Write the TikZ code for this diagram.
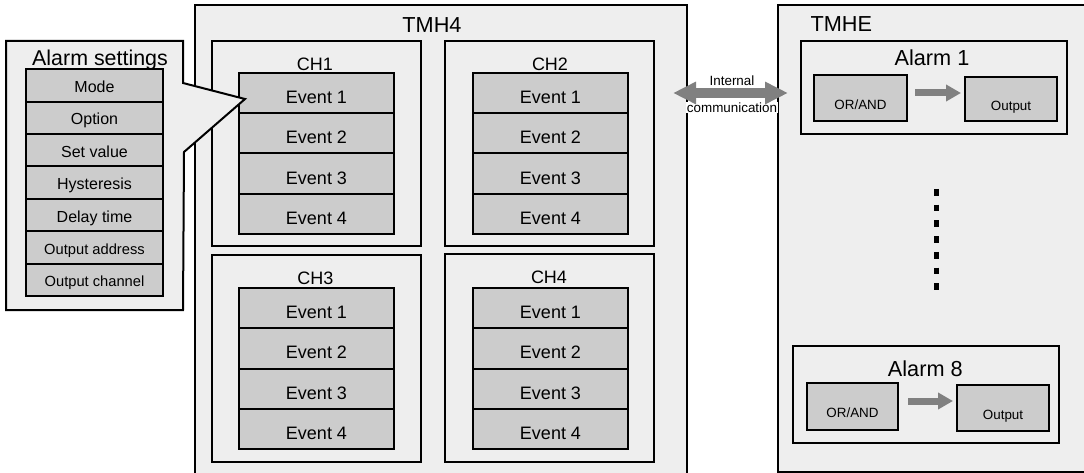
\documentclass[tikz,border=0pt]{standalone}
\usepackage{fontspec}
\setmainfont{Liberation Sans}
\usepackage{xcolor}
\usepackage{tikz}
\usetikzlibrary{arrows.meta}

\definecolor{panelgray}{HTML}{EEEEEE}
\definecolor{boxgray}{HTML}{CCCCCC}
\definecolor{arrowgray}{HTML}{808080}

\newcommand{\fsz}[1]{\fontsize{#1}{#1}\selectfont}

\tikzset{
  frame/.style={draw=black, fill=panelgray, line width=2pt, inner sep=0pt},
  eventbox/.style={draw=black, fill=boxgray, line width=2pt, inner sep=0pt,
    minimum width=155pt, minimum height=40.25pt, font=\fsz{18},
    text height=20.9pt, text depth=0pt},
  setbox/.style={draw=black, fill=boxgray, line width=2pt, inner sep=0pt,
    minimum width=137pt, minimum height=32.4pt, font=\fsz{16},
    text height=14pt, text depth=0pt},
  logicbox/.style={draw=black, fill=boxgray, line width=2pt, inner sep=0pt,
    font=\fsz{13.4}, text height=22.5pt, text depth=0pt},
  flowarrow/.style={arrowgray, line width=7pt,
    -{Triangle[length=15pt, width=16pt]}},
  title/.style={anchor=base, font=\fsz{21.7}},
  chlabel/.style={anchor=base, font=\fsz{18}}
}

\begin{document}
\begin{tikzpicture}[x=1pt, y=-1pt]
  \useasboundingbox (0,0) rectangle (1084,473);
  \fill[white] (0,0) rectangle (1084,473);

  % TMH4 unit
  \fill[panelgray] (195,5) rectangle (687,474);
  \draw[line width=2pt] (195,474) -- (195,5) -- (687,5) -- (687,474);
  \node[title] (tmh) at (432,32.7) {TMH4};

  % channels
  \node[frame, minimum width=209pt, minimum height=205pt] (ch1) at (316.5,143.5) {};
  \node[frame, minimum width=209pt, minimum height=205pt] (ch2) at (549.5,143.5) {};
  \node[frame, minimum width=209pt, minimum height=207pt] (ch3) at (316.5,358.5) {};
  \node[frame, minimum width=209pt, minimum height=208pt] (ch4) at (549.5,358) {};
  \node[chlabel] (ch1lbl) at (315,70.7) {CH1};
  \node[chlabel] (ch2lbl) at (550,70.7) {CH2};
  \node[chlabel] (ch3lbl) at (315.3,284.3) {CH3};
  \node[chlabel] (ch4lbl) at (549,283.3) {CH4};

  % events of each channel
  \foreach \ch/\cx/\ty in {1/316.5/73, 2/550.5/73, 3/316.5/288, 4/550.5/288} {
    \foreach \e in {1,...,4} {
      \node[eventbox] (ch\ch e\e) at (\cx,{\ty+40.25*(\e-0.5)}) {Event \e};
    }
  }

  % TMHE unit
  \fill[panelgray] (778,5) rectangle (1086,472);
  \draw[line width=2pt] (1086,5) -- (778,5) -- (778,472) -- (1086,472);
  \node[title, anchor=base west] (tmhe) at (807,31.7) {TMHE};

  % alarm 1
  \node[frame, minimum width=266pt, minimum height=93pt] (alarmA) at (934,87.5) {};
  \node[title] (alarmAlbl) at (932,66) {Alarm 1};
  \node[logicbox, minimum width=93pt, minimum height=46pt] (orA) at (860.5,98) {OR/AND};
  \node[logicbox, minimum width=92pt, minimum height=44pt] (outA) at (1011,99) {Output};
  \draw[flowarrow] ([xshift=7pt, yshift=5pt]orA.east) -- ([xshift=-3pt, yshift=5pt]orA.east -| outA.west);

  % dotted gap between alarms
  \coordinate (dotsTop) at (936,189);
  \coordinate (dotsBot) at (936,291);
  \draw[line width=5pt, dash pattern=on 6.7pt off 9pt] (dotsTop) -- (dotsBot);

  % alarm 8
  \node[frame, minimum width=266pt, minimum height=97pt] (alarmH) at (926,394.5) {};
  \node[title] (alarmHlbl) at (925.3,376) {Alarm 8};
  \node[logicbox, minimum width=91pt, minimum height=47pt] (orH) at (852.5,406.5) {OR/AND};
  \node[logicbox, minimum width=92pt, minimum height=46pt] (outH) at (1003,408) {Output};
  \draw[flowarrow] ([xshift=9pt, yshift=5.5pt]orH.east) -- ([xshift=-3pt, yshift=5.5pt]orH.east -| outH.west);

  % internal communication
  \node[anchor=base, font=\fsz{13.4}, fill=white, inner sep=0.5pt] (commtop) at (732,86) {Internal};
  \node[anchor=base, font=\fsz{13.4}, fill=white, inner sep=0.5pt] (commbot) at (732,112.3) {communication};
  \coordinate (commL) at (673,93);
  \coordinate (commR) at (788,93);
  \draw[arrowgray, line width=10pt, {Triangle[length=23pt, width=21pt]}-{Triangle[length=23pt, width=21pt]}] (commL) -- (commR);

  % alarm settings callout
  \draw[line width=2pt, fill=panelgray, line join=miter]
    (6,41) -- (183,41) -- (183,83) -- (245,99) -- (184,152) -- (183,310) -- (6,310) -- cycle;
  \node[anchor=base, font=\fsz{21.4}] (setlbl) at (100,66) {Alarm settings};
  \foreach \i/\txt in {1/Mode, 2/Option, 3/Set value, 4/Hysteresis, 5/Delay time} {
    \node[setbox] (set\i) at (94.5,{69.3+32.4*(\i-0.5)}) {\txt};
  }
  \node[setbox, font=\fsz{14.7}, text height=13.5pt] (set6) at (94.5,247.5) {Output address};
  \node[setbox, font=\fsz{14.7}, text height=13.5pt] (set7) at (94.5,279.9) {Output channel};
\end{tikzpicture}
\end{document}
